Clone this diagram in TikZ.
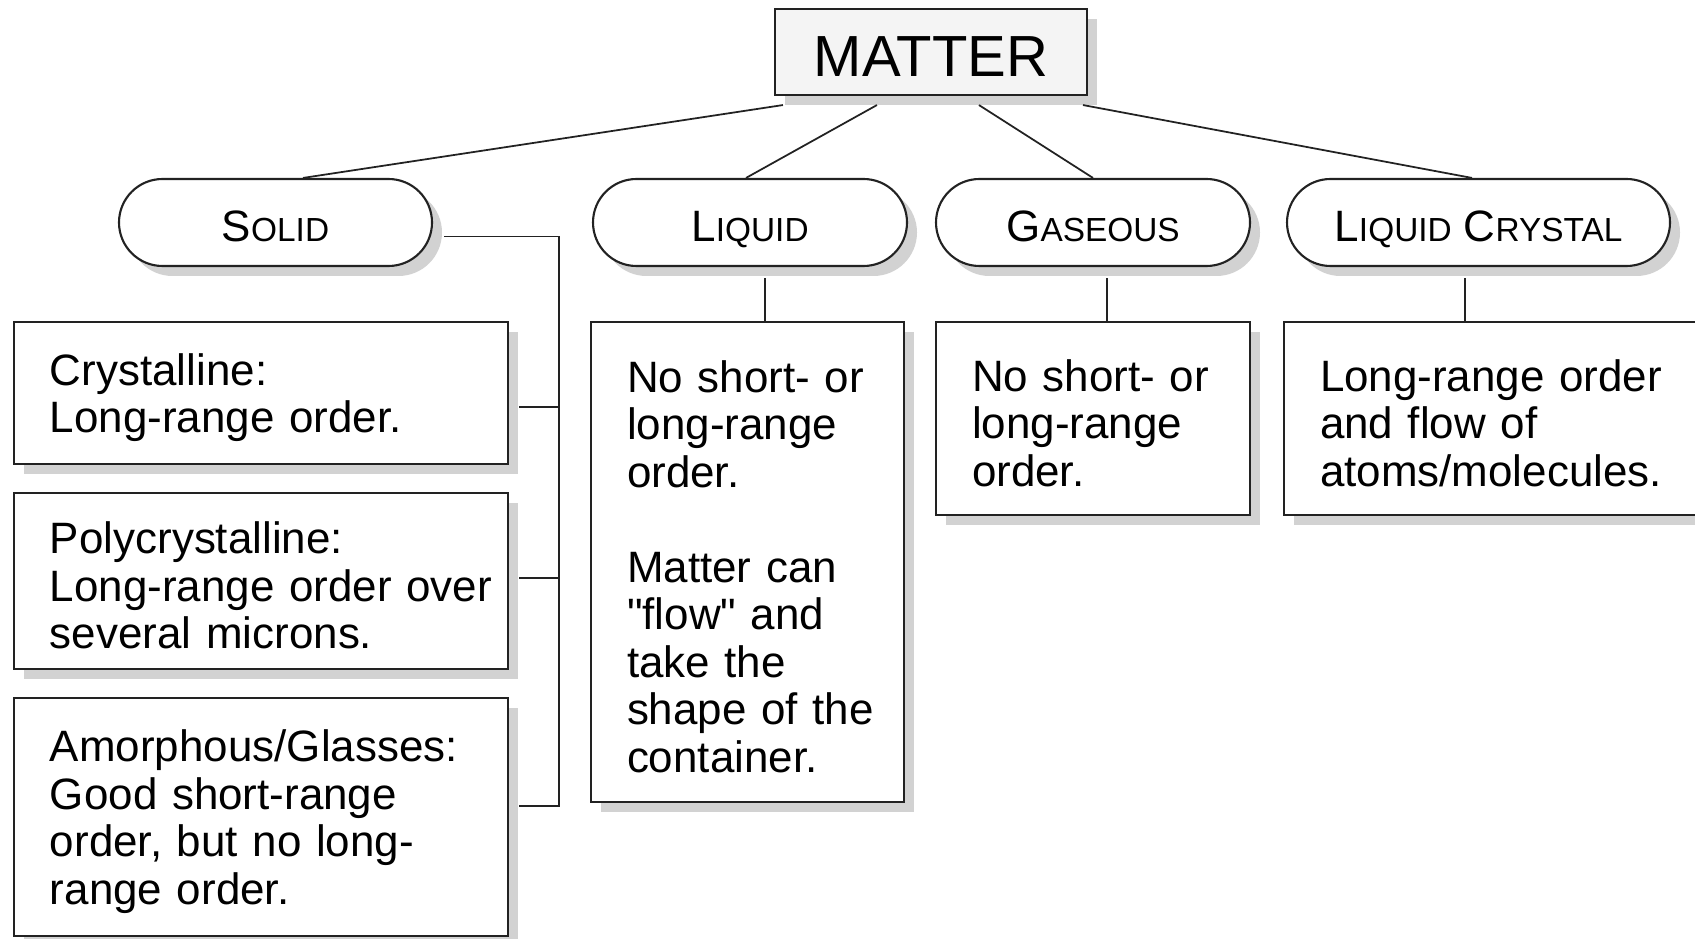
\documentclass[tikz,border=0pt]{standalone}
\usepackage{fontspec}
\setmainfont{Liberation Sans}
\usetikzlibrary{shadows}
\definecolor{mtline}{HTML}{222222}
\definecolor{mtshadow}{HTML}{D2D2D2}
\definecolor{mttitle}{HTML}{F4F4F4}
\newcommand{\capsc}[2]{{\fontsize{12.5}{15}\selectfont #1}{\fontsize{9.5}{12}\selectfont #2}}
\newcommand{\boxend}{\par\kern-2.6pt}

\begin{document}
\begin{tikzpicture}[every node/.style={font=\fontsize{12.5}{13.5}\selectfont},
    boxshadow/.style={drop shadow={shadow xshift=1mm, shadow yshift=-1mm, fill=mtshadow, opacity=1}},
    titlebox/.style={rectangle, draw=mtline, line width=0.6pt, fill=mttitle, boxshadow, minimum width=3.12cm, minimum height=0.86cm, text height=0.5cm, text depth=0pt, font=\fontsize{16.5}{19}\selectfont},
    phasebox/.style={rectangle, draw=mtline, line width=0.6pt, fill=white, boxshadow, rounded corners=4.35mm, minimum height=0.87cm, text height=0.375cm, text depth=0pt},
    textbox/.style={rectangle, draw=mtline, line width=0.6pt, fill=white, boxshadow, align=left, inner xsep=0.8mm, inner ysep=0pt, execute at begin node={\leftskip=2.8mm}, execute at end node=\boxend},
    conn/.style={draw=mtline, line width=0.5pt}]
            \useasboundingbox (0,0) rectangle (16.95,-9.39);

            % Top node
            \node[titlebox] (matter) at (9.31,-0.52) {MATTER};

            % States of matter
            \node[phasebox, minimum width=3.13cm] (solid) at (2.755,-2.225) {\capsc{S}{OLID}};
            \node[phasebox, minimum width=3.14cm] (liquid) at (7.50,-2.225) {\capsc{L}{IQUID}};
            \node[phasebox, minimum width=3.14cm] (gas) at (10.93,-2.225) {\capsc{G}{ASEOUS}};
            \node[phasebox, minimum width=3.83cm] (lcrystal) at (14.785,-2.225) {\capsc{L}{IQUID} \capsc{C}{RYSTAL}};

            % Descriptions
            \node[textbox, text width=4.78cm, minimum height=1.42cm] (crys) at (2.61,-3.93)
                {Crystalline:\\Long-range order.};
            \node[textbox, text width=4.78cm, minimum height=1.76cm] (poly) at (2.61,-5.81)
                {Polycrystalline:\\Long-range order over\\several microns.};
            \node[textbox, text width=4.78cm, minimum height=2.38cm] (amor) at (2.61,-8.17)
                {Amorphous/Glasses:\\Good short-range\\order, but no long-\\range order.};
            \node[textbox, text width=2.97cm, minimum height=4.80cm] (liqtext) at (7.475,-5.62)
                {No short- or\\long-range\\order.\\[13.5pt]Matter can\\\textquotedbl flow\textquotedbl{} and\\take the\\shape of the\\container.};
            \node[textbox, text width=2.98cm, minimum height=1.93cm] (gastext) at (10.93,-4.185)
                {No short- or\\long-range\\order.};
            \node[textbox, text width=4.04cm, minimum height=1.93cm] (lctext) at (14.94,-4.185)
                {Long-range order\\and flow of\\atoms/molecules.};

            % Lines from the top node
            \draw[conn] ([xshift=0.9mm,yshift=-0.9mm]matter.south west) -- ([xshift=2.75mm]solid.north);
            \draw[conn] ([xshift=10.3mm,yshift=-0.9mm]matter.south west) -- ([xshift=-0.4mm]liquid.north);
            \draw[conn] ([xshift=20.5mm,yshift=-0.9mm]matter.south west) -- (gas.north);
            \draw[conn] ([xshift=30.9mm,yshift=-0.9mm]matter.south west) -- ([xshift=-0.65mm]lcrystal.north);

            % Solid branches
            \coordinate (bus) at (5.59,-8.06);
            \draw[conn] ([xshift=1.1mm,yshift=-1.4mm]solid.east) -| (bus);
            \draw[conn] (bus) |- ([xshift=1mm,yshift=-1.4mm]crys.east);
            \draw[conn] (bus) |- ([xshift=1mm,yshift=0.3mm]poly.east);
            \draw[conn] (bus) |- ([xshift=1mm,yshift=1.1mm]amor.east);

            % Other states
            \draw[conn] ([xshift=1.5mm,yshift=-1.1mm]liquid.south) coordinate (lqtop) -- (lqtop |- liqtext.north);
            \draw[conn] ([xshift=1.4mm,yshift=-1.1mm]gas.south) coordinate (gstop) -- (gstop |- gastext.north);
            \draw[conn] ([xshift=-1.35mm,yshift=-1.1mm]lcrystal.south) coordinate (lctop) -- (lctop |- lctext.north);
        \end{tikzpicture}
\end{document}
